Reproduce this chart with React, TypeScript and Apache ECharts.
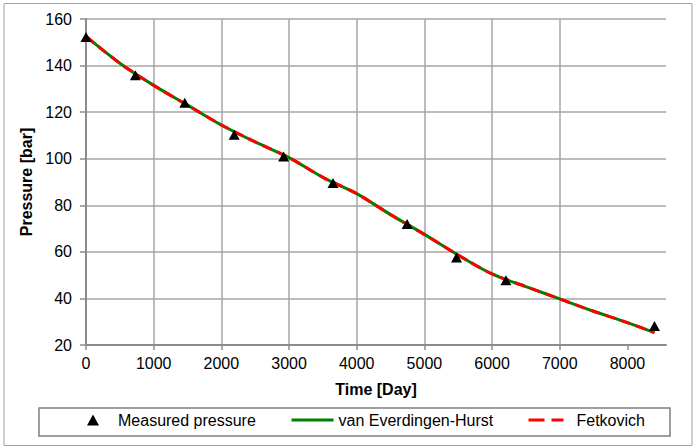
import { useEffect, useRef } from "react";
import * as echarts from "echarts";

// Field measurements: time [day] and reservoir pressure [bar]
const measuredDays = [0, 730, 1460, 2190, 2920, 3650, 4745, 5475, 6205, 8400];
const measuredPressure = [152.3, 135.8, 124, 110.3, 101, 89.6, 72, 57.6, 47.8, 28.2];

// Aquifer model results on a common time grid
const modelDays = [0, 500, 1000, 1500, 2000, 2500, 3000, 3500, 4000, 4500, 5000, 5500, 6000, 6500, 7000, 7500, 8000, 8400];
const vehPressure = [152.5, 141, 131.5, 123, 114.5, 107.2, 100.5, 92, 85, 76, 67.5, 58.6, 50.5, 45.1, 39.8, 34.5, 29.6, 25.3];
const fetkovichPressure = [152.5, 141, 131.5, 123, 114.5, 107.2, 100.5, 92, 85, 76, 67.5, 58.6, 50.5, 45.1, 39.8, 34.5, 29.6, 25.3];

const timeTicks = [0, 1000, 2000, 3000, 4000, 5000, 6000, 7000, 8000];

const seriesNames = ["Measured pressure", "van Everdingen-Hurst", "Fetkovich"];

const FONT = "'Liberation Sans', Arial, sans-serif";

const zip = (xs: number[], ys: number[]) => xs.map((x, i) => [x, ys[i]]);

export default function App() {
  const ref = useRef<HTMLDivElement>(null);

  useEffect(() => {
    if (!ref.current) return;
    const chart = echarts.init(ref.current, null, { renderer: "svg" });
    const legendText = { fontFamily: FONT, fontSize: 16, color: "#000" };
    chart.setOption({
      animation: false,
      backgroundColor: "#fff",
      textStyle: { fontFamily: FONT },
      grid: { left: 86, top: 19, right: 30, bottom: 103, containLabel: false },
      xAxis: {
        type: "value",
        min: 0,
        max: 8570,
        interval: 1000,
        name: "Time [Day]",
        nameLocation: "middle",
        nameGap: 36,
        nameTextStyle: { fontFamily: FONT, fontSize: 16, fontWeight: "bold", color: "#000" },
        axisLine: { show: true, lineStyle: { color: "#8c8c8c", width: 2 } },
        axisTick: { show: true, length: 5, customValues: timeTicks, lineStyle: { color: "#8c8c8c", width: 1.5 } },
        axisLabel: {
          customValues: timeTicks,
          margin: 10,
          fontFamily: FONT,
          fontSize: 16,
          color: "#000",
          formatter: (v: number) => String(v),
        },
        splitLine: { show: true, showMaxLine: false, lineStyle: { color: "#a6a6a6", width: 1.5 } },
      },
      yAxis: {
        type: "value",
        min: 20,
        max: 160,
        interval: 20,
        name: "Pressure [bar]",
        nameLocation: "middle",
        nameGap: 50,
        nameTextStyle: { fontFamily: FONT, fontSize: 16, fontWeight: "bold", color: "#000" },
        axisLine: { show: true, lineStyle: { color: "#8c8c8c", width: 2 } },
        axisTick: { show: true, length: 6, lineStyle: { color: "#8c8c8c", width: 1.5 } },
        axisLabel: { margin: 14, fontFamily: FONT, fontSize: 16, color: "#000" },
        splitLine: { show: true, lineStyle: { color: "#a6a6a6", width: 1.5 } },
      },
      legend: [
        {
          data: [seriesNames[0]],
          left: 87,
          top: 412,
          padding: 0,
          itemWidth: 12,
          itemHeight: 11,
          icon: "triangle",
          textStyle: { ...legendText, padding: [0, 0, 0, 14] },
        },
        {
          data: [seriesNames[1]],
          left: 290,
          top: 412,
          padding: 0,
          itemWidth: 42,
          itemHeight: 11,
          itemStyle: { opacity: 0 },
          lineStyle: { width: 3 },
          textStyle: legendText,
        },
        {
          data: [seriesNames[2]],
          left: 527,
          top: 412,
          padding: 0,
          itemWidth: 43,
          itemHeight: 11,
          itemStyle: { opacity: 0 },
          lineStyle: { type: [16, 7, 12, 8], width: 3 },
          textStyle: legendText,
        },
      ],
      graphic: [
        {
          type: "rect",
          silent: true,
          z: -10,
          shape: { x: 4, y: 3.5, width: 688, height: 442 },
          style: { fill: "none", stroke: "#a0a0a0", lineWidth: 1 },
        },
        {
          type: "rect",
          silent: true,
          shape: { x: 39, y: 408, width: 631, height: 28 },
          style: { fill: "none", stroke: "#7f7f7f", lineWidth: 1.5 },
        },
      ],
      series: [
        {
          name: seriesNames[1],
          type: "line",
          data: zip(modelDays, vehPressure),
          smooth: 0.3,
          symbol: "none",
          color: "#008000",
          lineStyle: { color: "#008000", width: 3 },
          z: 2,
        },
        {
          name: seriesNames[2],
          type: "line",
          data: zip(modelDays, fetkovichPressure),
          smooth: 0.3,
          symbol: "none",
          color: "#ff0000",
          lineStyle: { color: "#ff0000", width: 3, type: [10, 6] },
          z: 3,
        },
        {
          name: seriesNames[0],
          type: "scatter",
          data: zip(measuredDays, measuredPressure),
          symbol: "triangle",
          symbolSize: [11, 10],
          color: "#000",
          itemStyle: { color: "#000", opacity: 1 },
          z: 4,
        },
      ],
    });
    return () => chart.dispose();
  }, []);

  return (
    <div
      ref={ref}
      style={{ position: "fixed", left: 0, top: 0, width: 696, height: 448 }}
    />
  );
}
